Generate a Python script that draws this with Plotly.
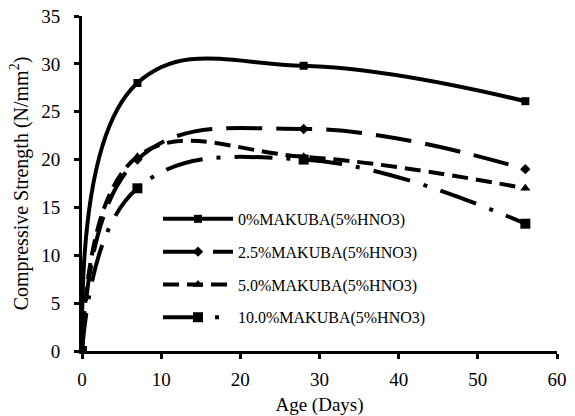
import plotly.graph_objects as go

# Curing age (days) and compressive strength (N/mm^2)
age = [0, 7, 28, 56]
s_0 = [0, 28.0, 29.8, 26.1]
s_25 = [0, 20.0, 23.2, 19.0]
s_50 = [0, 20.3, 20.3, 17.0]
s_100 = [0, 17.0, 20.0, 13.3]

names = ["0%MAKUBA(5%HNO3)", "2.5%MAKUBA(5%HNO3)",
         "5.0%MAKUBA(5%HNO3)", "10.0%MAKUBA(5%HNO3)"]
series = [s_0, s_25, s_50, s_100]
dashes = ["solid", "36px,14px", "16px,8px", "38px,14px,4px,14px"]
symbols = ["square", "diamond", "triangle-up", "square"]
msizes = [8, 8, 9, 10]

fig = go.Figure()
for i, (nm, ys) in enumerate(zip(names, series)):
    fig.add_trace(go.Scatter(
        x=age, y=ys, name=nm, mode="lines+markers",
        line=dict(color="black", width=4, dash=dashes[i], shape="spline", smoothing=1.2),
        marker=dict(symbol=symbols[i], size=msizes[i], color="black"),
        legendgroup=f"g{i}",
    ))

font = "Times New Roman, Liberation Serif, serif"
fig.update_layout(
    width=575, height=416,
    margin=dict(l=82, r=18, t=16, b=65),
    paper_bgcolor="white", plot_bgcolor="white",
    font=dict(family=font, size=18, color="black"),
    showlegend=True,
    legend=dict(
        x=0.16, y=0.445, xanchor="left", yanchor="top",
        bgcolor="rgba(0,0,0,0)", font=dict(size=16, family=font),
        traceorder="grouped", tracegroupgap=9, itemwidth=70,
    ),
    xaxis=dict(
        range=[0, 60], dtick=10, showgrid=False, zeroline=False,
        showline=True, linecolor="black", linewidth=3,
        ticks="outside", tickwidth=3, ticklen=5, tickcolor="black",
        ticklabelstandoff=4, automargin=False,
        title=dict(text="Age (Days)", standoff=10, font=dict(size=19, family=font)),
        tickfont=dict(size=19, family=font),
    ),
    yaxis=dict(
        range=[0, 35], dtick=5, showgrid=False, zeroline=False,
        showline=True, linecolor="black", linewidth=3,
        ticks="outside", tickwidth=3, ticklen=5, tickcolor="black",
        ticklabelstandoff=10, automargin=False,
        title=dict(text="Compressive Strength (N/mm<sup>2</sup>)", standoff=8, font=dict(size=20, family=font)),
        tickfont=dict(size=19, family=font),
    ),
)

fig.write_html("out.html")
